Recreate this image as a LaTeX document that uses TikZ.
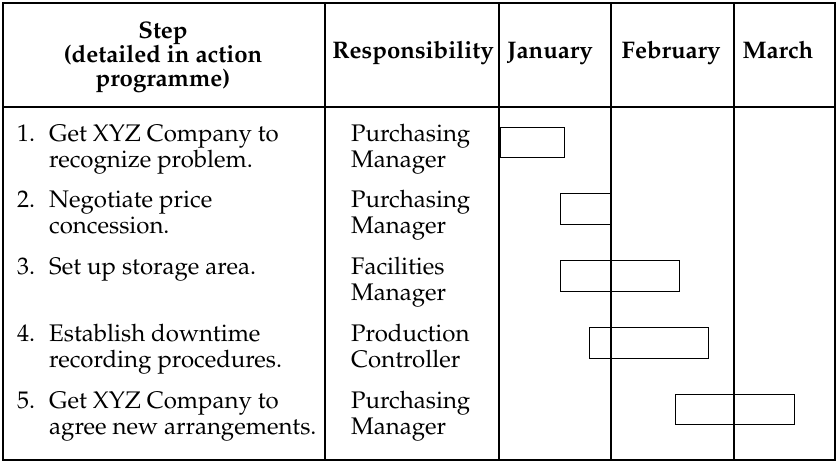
\documentclass[tikz,border=0pt]{standalone}
\usepackage[T1]{fontenc}
\usepackage{mathpazo}
\usetikzlibrary{positioning}

\begin{document}
\begin{tikzpicture}[x = 1pt, y = -1pt,
    txt/.style  = {font = \fontsize{24}{26}\selectfont, align = left, inner sep = 0pt, anchor = base west},
    head/.style = {font = \fontsize{24}{24}\selectfont\bfseries, align = center, inner sep = 0pt, anchor = base},
    rule/.style = {line width = 1.4pt},
    bar/.style  = {draw, line width = 1pt}]
      \useasboundingbox (0,0) rectangle (836,461);
      \draw[rule] (3,3) rectangle (835,460);
      \draw[rule] (3,107) -- (835,107);
      \draw[rule] (325,3) -- (325,460)
                  (499,3) -- (499,460)
                  (611,3) -- (611,460)
                  (734,3) -- (734,460);
      \node[head] (step) at (163,86) {Step\\(detailed in action\\programme)};
      \node[head] (resp) at (413,58) {Responsibility};
      \node[head] (jan)  at (550,58) {January};
      \node[head] (feb)  at (671,58) {February};
      \node[head] (mar)  at (778,58) {March};
      \node[txt] (n1) at (17,141) {1.};
      \node[txt] (s1) at (49,167) {Get XYZ Company to\\recognize problem.};
      \node[txt] (r1) at (351,167) {Purchasing\\Manager};
      \node[txt] (n2) at (17,207.9) {2.};
      \node[txt] (s2) at (49,233.9) {Negotiate price\\concession.};
      \node[txt] (r2) at (351,233.9) {Purchasing\\Manager};
      \node[txt] (n3) at (17,274.8) {3.};
      \node[txt] (s3) at (49,274.8) {Set up storage area.};
      \node[txt] (r3) at (351,300.8) {Facilities\\Manager};
      \node[txt] (n4) at (17,341.7) {4.};
      \node[txt] (s4) at (49,367.7) {Establish downtime\\recording procedures.};
      \node[txt] (r4) at (351,367.7) {Production\\Controller};
      \node[txt] (n5) at (17,408.6) {5.};
      \node[txt] (s5) at (49,434.6) {Get XYZ Company to\\agree new arrangements.};
      \node[txt] (r5) at (351,434.6) {Purchasing\\Manager};
      \draw[bar] (500,127) rectangle (564,157);
      \draw[bar] (560,193) rectangle (610,224);
      \draw[bar] (560,260) rectangle (679,291);
      \draw[bar] (589,327) rectangle (708,358);
      \draw[bar] (675,394) rectangle (794,424);
    \end{tikzpicture}
\end{document}
